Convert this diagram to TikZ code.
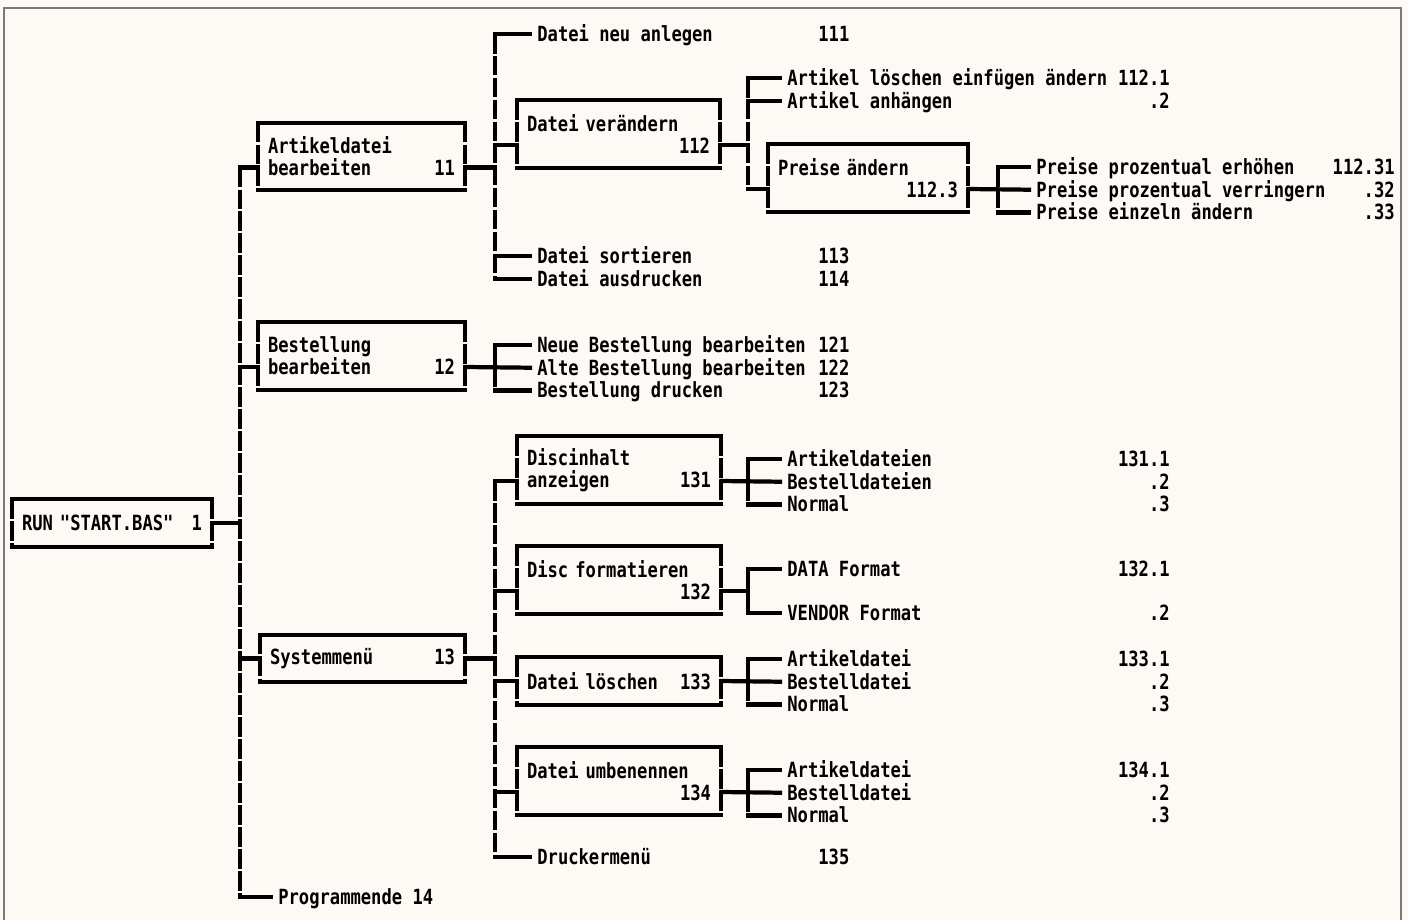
\documentclass[tikz,border=0pt]{standalone}
\usepackage{fontspec}
\usepackage{xcolor}
\usetikzlibrary{positioning}

\newfontfamily\dotfont{DejaVu Sans Mono}[FakeStretch=0.82]
\newcommand{\dotface}{\dotfont\bfseries\fontsize{11.9}{12.5}\selectfont}
\definecolor{paper}{RGB}{253,249,245}
\definecolor{framegray}{RGB}{125,120,120}

\begin{document}
\begin{tikzpicture}[
  x=0.02cm, y=-0.02cm, font=\dotface,
  wire/.style={line width=2.4pt, line cap=rect},
  bar/.style={line width=2.4pt, dash pattern=on 0.39cm off 0.05cm},
  menubox/.style={inner xsep=0.2cm, inner ysep=0pt, text width=#1, align=left, minimum height=1.34cm},
  flatbox/.style={menubox=#1, minimum height=0.94cm},
  item/.style={anchor=west, inner xsep=0.14cm, inner ysep=0pt, text height=0.37cm, text depth=0.07cm},
  below item/.style={below=0pt of #1.south west, anchor=north west},
  num/.style={inner sep=0pt, text height=0.37cm, text depth=0.07cm}
]
\fill[paper] (0,0) rectangle (1408,920);
\useasboundingbox (0,0) rectangle (1408,920);
\draw[framegray, line width=0.8pt] (4,920) -- (4,8) -- (1401,8) -- (1401,920);

% start and first level
\node[flatbox=3.6cm] (root) at (112,523) {RUN "START.BAS"\hfill 1};
\node[menubox=3.74cm] (a11) at (361.5,156.5) {Artikeldatei\\bearbeiten\hfill 11};
\node[menubox=3.74cm] (a12) at (361.5,356) {Bestellung\\bearbeiten\hfill 12};
\node[flatbox=3.7cm] (a13) at (362.5,658.5) {Systemmenü\hfill 13};
\node[item] (prog) at (271,897) {Programmende 14};

% Artikeldatei bearbeiten
\node[item] (n111) at (530,34) {Datei neu anlegen};
\node[menubox=3.66cm] (b112) at (618.5,134) {Datei verändern\\\mbox{}\hfill 112};
\node[item] (n113) at (530,256) {Datei sortieren};
\node[item, below item=n113] (n114) {Datei ausdrucken};

% Datei veraendern
\node[item] (n1121) at (780,78) {Artikel löschen einfügen ändern};
\node[item, below item=n1121] (n1122) {Artikel anhängen};
\node[menubox=3.6cm] (c1123) at (868,178) {Preise ändern\\\mbox{}\hfill 112.3};

% Preise aendern
\node[item] (n11231) at (1029,167) {Preise prozentual erhöhen};
\node[item, below item=n11231] (n11232) {Preise prozentual verringern};
\node[item, below item=n11232] (n11233) {Preise einzeln ändern};

% Bestellung bearbeiten
\node[item] (n121) at (530,345) {Neue Bestellung bearbeiten};
\node[item, below item=n121] (n122) {Alte Bestellung bearbeiten};
\node[item, below item=n122] (n123) {Bestellung drucken};

% Systemmenue
\node[menubox=3.68cm] (d131) at (619,470) {Discinhalt\\anzeigen\hfill 131};
\node[menubox=3.68cm] (d132) at (619,580) {Disc formatieren\\\mbox{}\hfill 132};
\node[flatbox=3.68cm] (d133) at (619,681) {Datei löschen\hfill 133};
\node[menubox=3.68cm] (d134) at (619,781) {Datei umbenennen\\\mbox{}\hfill 134};
\node[item] (n135) at (530,857) {Druckermenü};

\node[item] (n1311) at (780,459) {Artikeldateien};
\node[item, below item=n1311] (n1312) {Bestelldateien};
\node[item, below item=n1312] (n1313) {Normal};
\node[item] (n1321) at (780,569) {DATA Format};
\node[item] (n1322) at (780,613) {VENDOR Format};
\node[item] (n1331) at (780,659) {Artikeldatei};
\node[item, below item=n1331] (n1332) {Bestelldatei};
\node[item, below item=n1332] (n1333) {Normal};
\node[item] (n1341) at (780,770) {Artikeldatei};
\node[item, below item=n1341] (n1342) {Bestelldatei};
\node[item, below item=n1342] (n1343) {Normal};

% numbers
\coordinate (colA) at (818,0);
\coordinate (colB) at (1170,0);
\coordinate (colC) at (1395,0);
\node[num, anchor=west] (k111) at (colA |- n111) {111};
\node[num, anchor=west] (k113) at (colA |- n113) {113};
\node[num, anchor=west] (k114) at (colA |- n114) {114};
\node[num, anchor=west] (k121) at (colA |- n121) {121};
\node[num, anchor=west] (k122) at (colA |- n122) {122};
\node[num, anchor=west] (k123) at (colA |- n123) {123};
\node[num, anchor=west] (k135) at (colA |- n135) {135};
\node[num, anchor=east] (k1121) at (colB |- n1121) {112.1};
\node[num, anchor=east] (k1122) at (colB |- n1122) {.2};
\node[num, anchor=east] (k11231) at (colC |- n11231) {112.31};
\node[num, anchor=east] (k11232) at (colC |- n11232) {.32};
\node[num, anchor=east] (k11233) at (colC |- n11233) {.33};
\node[num, anchor=east] (k1311) at (colB |- n1311) {131.1};
\node[num, anchor=east] (k1312) at (colB |- n1312) {.2};
\node[num, anchor=east] (k1313) at (colB |- n1313) {.3};
\node[num, anchor=east] (k1321) at (colB |- n1321) {132.1};
\node[num, anchor=east] (k1322) at (colB |- n1322) {.2};
\node[num, anchor=east] (k1331) at (colB |- n1331) {133.1};
\node[num, anchor=east] (k1332) at (colB |- n1332) {.2};
\node[num, anchor=east] (k1333) at (colB |- n1333) {.3};
\node[num, anchor=east] (k1341) at (colB |- n1341) {134.1};
\node[num, anchor=east] (k1342) at (colB |- n1342) {.2};
\node[num, anchor=east] (k1343) at (colB |- n1343) {.3};

% box frames and ports
\foreach \b in {root,a11,a12,a13,b112,c1123,d131,d132,d133,d134} {
  \draw[wire] (\b.north west) -- (\b.north east) (\b.south west) -- (\b.south east);
  \draw[bar] (\b.north west) -- (\b.south west) (\b.north east) -- (\b.south east);
}
\foreach \b in {a11,a12,b112,c1123,d131,d132,d134} {
  \coordinate (\b-w) at ([yshift=-0.22cm]\b.west);
  \coordinate (\b-e) at ([yshift=-0.22cm]\b.east);
}
\foreach \b in {root,a13,d133} {
  \coordinate (\b-w) at (\b.west);
  \coordinate (\b-e) at (\b.east);
}
\coordinate (busA) at (240,0);
\coordinate (busB) at (495,0);
\coordinate (busC) at (748,0);
\coordinate (busD) at (998,0);

% main bus
\draw[bar] (busA |- a11-w) -- (busA |- prog.west);
\draw[wire] (root-e) -- (busA |- root-e);
\foreach \t in {a11-w, a12-w, a13-w, prog.west}
  \draw[wire] (busA |- \t) -- (\t);

% Artikeldatei bearbeiten
\draw[bar] (busB |- n111.west) -- (busB |- n114.west);
\draw[wire] (a11-e) -- (busB |- a11-e);
\foreach \t in {n111.west, b112-w, n113.west, n114.west}
  \draw[wire] (busB |- \t) -- (\t);

% Datei veraendern
\draw[bar] (busC |- n1121.west) -- (busC |- c1123-w);
\draw[wire] (b112-e) -- (busC |- b112-e);
\foreach \t in {n1121.west, n1122.west, c1123-w}
  \draw[wire] (busC |- \t) -- (\t);

% Preise aendern
\draw[bar] (busD |- n11231.west) -- (busD |- n11233.west);
\draw[wire] (c1123-e) -- (n11232.west);
\foreach \t in {n11231.west, n11233.west}
  \draw[wire] (busD |- \t) -- (\t);

% Bestellung bearbeiten
\draw[bar] (busB |- n121.west) -- (busB |- n123.west);
\draw[wire] (a12-e) -- (n122.west);
\foreach \t in {n121.west, n123.west}
  \draw[wire] (busB |- \t) -- (\t);

% Systemmenue
\draw[bar] (busB |- d131-w) -- (busB |- n135.west);
\draw[wire] (a13-e) -- (busB |- a13-e);
\foreach \t in {d131-w, d132-w, d133-w, d134-w, n135.west}
  \draw[wire] (busB |- \t) -- (\t);

\draw[bar] (busC |- n1311.west) -- (busC |- n1313.west);
\draw[wire] (d131-e) -- (n1312.west);
\foreach \t in {n1311.west, n1313.west}
  \draw[wire] (busC |- \t) -- (\t);

\draw[bar] (busC |- n1321.west) -- (busC |- n1322.west);
\draw[wire] (d132-e) -- (busC |- d132-e);
\foreach \t in {n1321.west, n1322.west}
  \draw[wire] (busC |- \t) -- (\t);

\draw[bar] (busC |- n1331.west) -- (busC |- n1333.west);
\draw[wire] (d133-e) -- (n1332.west);
\foreach \t in {n1331.west, n1333.west}
  \draw[wire] (busC |- \t) -- (\t);

\draw[bar] (busC |- n1341.west) -- (busC |- n1343.west);
\draw[wire] (d134-e) -- (n1342.west);
\foreach \t in {n1341.west, n1343.west}
  \draw[wire] (busC |- \t) -- (\t);
\end{tikzpicture}
\end{document}
